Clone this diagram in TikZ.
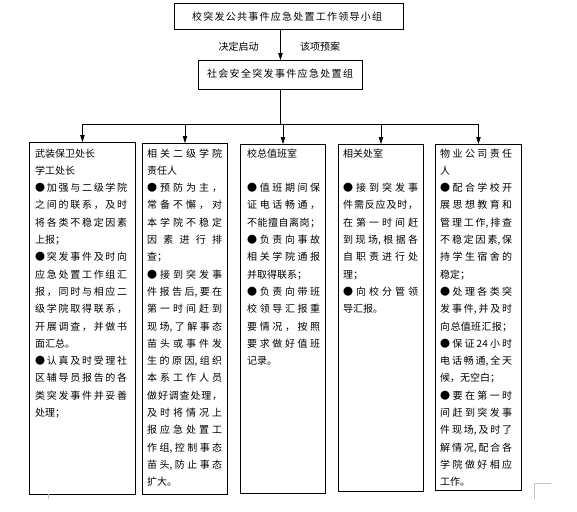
\documentclass[tikz,border=0pt]{standalone}
\usepackage{fontspec}
\setmainfont{Noto Sans CJK SC}
\usetikzlibrary{arrows.meta}
\newcommand\lnJ[1]{\hbox to\hsize{\frenchspacing\spaceskip=0pt plus 1fil\xspaceskip=0pt plus 1fil #1}}
\newcommand\lnL[1]{\hbox to\hsize{#1\hfil}}
\newcommand\lnB{\hbox to\hsize{}}
\newcommand\colbox[2]{\vtop{\hsize=#1\baselineskip=17.3pt\lineskip=0pt\lineskiplimit=-20pt #2}}
\begin{document}
\begin{tikzpicture}[x=1pt,y=-1pt,
  font=\fontsize{10pt}{12pt}\selectfont,
  bx/.style={draw, line width=0.9pt, inner sep=0pt, anchor=north west},
  txt/.style={inner sep=0pt},
  coltxt/.style={inner sep=0pt, anchor=base west},
  conn/.style={line width=0.8pt},
  arr/.style={line width=0.8pt, -{Triangle[length=7pt,width=4.5pt]}},
  crop/.style={gray!45, line width=0.6pt}]
\useasboundingbox (0,0) rectangle (577,511);

% top boxes
\node[bx, minimum width=229pt, minimum height=26pt] (top) at (174,3) {};
\node[txt] (toptext) at (287,17) {\hbox to190pt{\frenchspacing\spaceskip=0pt plus 1fil 校 突 发 公 共 事 件 应 急 处 置 工 作 领 导 小 组}};
\node[bx, minimum width=164pt, minimum height=29pt] (mid) at (198,60) {};
\node[txt] (midtext) at (280,74) {\hbox to146pt{\frenchspacing\spaceskip=0pt plus 1fil 社 会 安 全 突 发 事 件 应 急 处 置 组}};
\node[txt] (lab1) at (238.5,47) {决定启动};
\node[txt] (lab2) at (320,47) {该项预案};

% column boxes
\node[bx, minimum width=106pt, minimum height=352pt] (b1) at (29,142) {};
\node[bx, minimum width=85pt, minimum height=351pt] (b2) at (142,143) {};
\node[bx, minimum width=85pt, minimum height=349pt] (b3) at (240,144) {};
\node[bx, minimum width=85pt, minimum height=347pt] (b4) at (338,144) {};
\node[bx, minimum width=86pt, minimum height=346pt] (b5) at (435,144) {};

% connectors
\draw[arr] (top.south -| mid.north) -- (mid.north);
\coordinate (busy) at (0,124);
\draw[conn] (mid.south) -- (mid.south |- busy);
\draw[conn] (b1.north |- busy) -- (b5.north |- busy);
\foreach \b in {b1,b2,b3,b4,b5} \draw[arr] (\b.north |- busy) -- (\b.north);

% column texts
\node[coltxt] (t1) at (35,157) {\colbox{92pt}{%
\lnL{武装保卫处长}
\lnL{学工处长}
\lnJ{● 加 强 与 二 级 学 院}
\lnJ{之 间 的 联 系 ， 及 时}
\lnJ{将 各 类 不 稳 定 因 素}
\lnL{上报；}
\lnJ{● 突 发 事 件 及 时 向}
\lnJ{应 急 处 置 工 作 组 汇}
\lnJ{报 ， 同 时 与 相 应 二}
\lnJ{级 学 院 取 得 联 系 ，}
\lnJ{开 展 调 查 ， 并 做 书}
\lnL{面汇总。}
\lnJ{● 认 真 及 时 受 理 社}
\lnJ{区 辅 导 员 报 告 的 各}
\lnJ{类 突 发 事 件 并 妥 善}
\lnL{处理；}}};

\node[coltxt] (t2) at (147,157) {\colbox{75pt}{%
\lnJ{相 关 二 级 学 院}
\lnL{责任人}
\lnJ{● 预 防 为 主 ，}
\lnJ{常 备 不 懈 ， 对}
\lnJ{本 学 院 不 稳 定}
\lnJ{因 素 进 行 排}
\lnL{查；}
\lnJ{● 接 到 突 发 事}
\lnJ{件 报 告 后, 要 在}
\lnJ{第 一 时 间 赶 到}
\lnJ{现 场, 了 解 事 态}
\lnJ{苗 头 或 事 件 发}
\lnJ{生 的 原 因, 组 织}
\lnJ{本 系 工 作 人 员}
\lnJ{做 好 调 查 处 理 ，}
\lnJ{及 时 将 情 况 上}
\lnJ{报 应 急 处 置 工}
\lnJ{作 组, 控 制 事 态}
\lnJ{苗 头, 防 止 事 态}
\lnL{扩大。}}};

\node[coltxt] (t3) at (247,157) {\colbox{73pt}{%
\lnL{校总值班室}
\lnB
\lnJ{● 值 班 期 间 保}
\lnJ{证 电 话 畅 通 ，}
\lnJ{不 能 擅 自 离 岗 ；}
\lnJ{● 负 责 向 事 故}
\lnJ{相 关 学 院 通 报}
\lnL{并取得联系；}
\lnJ{● 负 责 向 带 班}
\lnJ{校 领 导 汇 报 重}
\lnJ{要 情 况 ， 按 照}
\lnJ{要 求 做 好 值 班}
\lnL{记录。}}};

\node[coltxt] (t4) at (343,157) {\colbox{75pt}{%
\lnL{相关处室}
\lnB
\lnJ{● 接 到 突 发 事}
\lnJ{件 需 反 应 及 时 ，}
\lnJ{在 第 一 时 间 赶}
\lnJ{到 现 场, 根 据 各}
\lnJ{自 职 责 进 行 处}
\lnL{理；}
\lnJ{● 向 校 分 管 领}
\lnL{导汇报。}}};

\node[coltxt] (t5) at (440,157) {\colbox{72pt}{%
\lnJ{物 业 公 司 责 任}
\lnL{人}
\lnJ{● 配 合 学 校 开}
\lnJ{展 思 想 教 育 和}
\lnJ{管 理 工 作, 排 查}
\lnJ{不 稳 定 因 素, 保}
\lnJ{持 学 生 宿 舍 的}
\lnL{稳定；}
\lnJ{● 处 理 各 类 突}
\lnJ{发 事 件, 并 及 时}
\lnJ{向 总 值 班 汇 报 ；}
\lnJ{● 保 证 24 小 时}
\lnJ{电 话 畅 通, 全 天}
\lnL{候，无空白；}
\lnJ{● 要 在 第 一 时}
\lnJ{间 赶 到 突 发 事}
\lnJ{件 现 场, 及 时 了}
\lnJ{解 情 况, 配 合 各}
\lnJ{学 院 做 好 相 应}
\lnL{工作。}}};

% page corner marks
\draw[crop] (48,494) -- (48,499);
\draw[crop] (551,483) -- (534,483) -- (534,499);
\end{tikzpicture}
\end{document}
